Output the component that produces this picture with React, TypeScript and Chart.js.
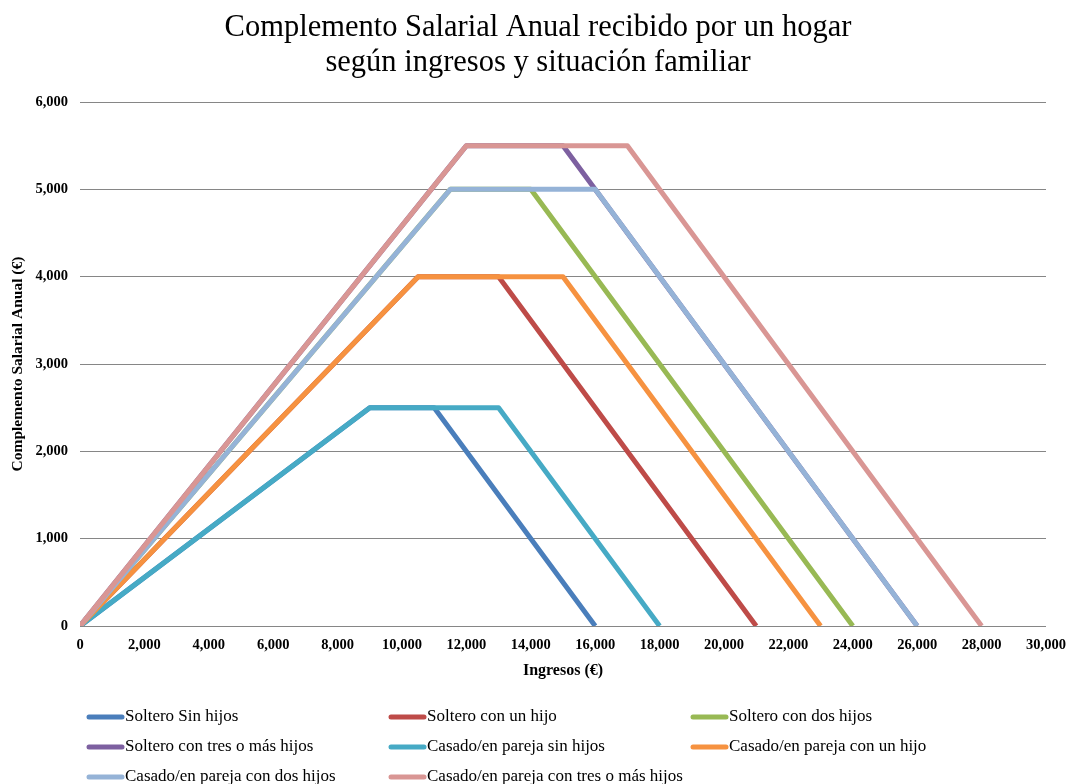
import React, { useEffect, useRef } from "react";
import { Chart, registerables } from "chart.js";

Chart.register(...registerables);

const titleLines = [
  "Complemento Salarial Anual recibido por un hogar",
  "según ingresos y situación familiar",
];
const xAxisTitle = "Ingresos (€)";
const yAxisTitle = "Complemento Salarial Anual (€)";

const seriesNames = [
  "Soltero Sin hijos",
  "Soltero con un hijo",
  "Soltero con dos hijos",
  "Soltero con tres o más hijos",
  "Casado/en pareja sin hijos",
  "Casado/en pareja con un hijo",
  "Casado/en pareja con dos hijos",
  "Casado/en pareja con tres o más hijos",
];

// Breakpoints (income €) and complement values (€) for each household type
const incomeSolteroSinHijos = [0, 9000, 11000, 16000];
const valuesSolteroSinHijos = [0, 2500, 2500, 0];
const incomeSolteroUnHijo = [0, 10500, 13000, 21000];
const valuesSolteroUnHijo = [0, 4000, 4000, 0];
const incomeSolteroDosHijos = [0, 11500, 14000, 24000];
const valuesSolteroDosHijos = [0, 5000, 5000, 0];
const incomeSolteroTresHijos = [0, 12000, 15000, 26000];
const valuesSolteroTresHijos = [0, 5500, 5500, 0];
const incomeCasadoSinHijos = [0, 9000, 13000, 18000];
const valuesCasadoSinHijos = [0, 2500, 2500, 0];
const incomeCasadoUnHijo = [0, 10500, 15000, 23000];
const valuesCasadoUnHijo = [0, 4000, 4000, 0];
const incomeCasadoDosHijos = [0, 11500, 16000, 26000];
const valuesCasadoDosHijos = [0, 5000, 5000, 0];
const incomeCasadoTresHijos = [0, 12000, 17000, 28000];
const valuesCasadoTresHijos = [0, 5500, 5500, 0];

const seriesIncomes = [
  incomeSolteroSinHijos,
  incomeSolteroUnHijo,
  incomeSolteroDosHijos,
  incomeSolteroTresHijos,
  incomeCasadoSinHijos,
  incomeCasadoUnHijo,
  incomeCasadoDosHijos,
  incomeCasadoTresHijos,
];
const seriesValues = [
  valuesSolteroSinHijos,
  valuesSolteroUnHijo,
  valuesSolteroDosHijos,
  valuesSolteroTresHijos,
  valuesCasadoSinHijos,
  valuesCasadoUnHijo,
  valuesCasadoDosHijos,
  valuesCasadoTresHijos,
];

const seriesColors = [
  "#4A7EBB",
  "#BE4B48",
  "#98B954",
  "#7D60A0",
  "#46AAC5",
  "#F69240",
  "#95B3D7",
  "#D99694",
];

const xMin = 0;
const xMax = 30000;
const xStep = 2000;
const yMin = 0;
const yMax = 6000;
const yStep = 1000;

const FONT = "'Liberation Serif', 'DejaVu Serif', serif";

const fmt = (v: number) => Number(v).toLocaleString("en-US");

const titlePlugin = {
  id: "customTitle",
  afterDraw(chart: any) {
    const ctx = chart.ctx;
    ctx.save();
    ctx.fillStyle = "#000";
    ctx.font = `30.5px ${FONT}`;
    ctx.textAlign = "center";
    ctx.textBaseline = "middle";
    ctx.fillText(titleLines[0], 538, 28);
    ctx.fillText(titleLines[1], 538, 63);
    ctx.restore();
  },
};

const legendPlugin = {
  id: "gridLegend",
  afterDraw(chart: any) {
    const ctx = chart.ctx;
    const colX = [87, 389, 691];
    const rowY = [717, 747, 777];
    ctx.save();
    ctx.font = `17px ${FONT}`;
    ctx.textBaseline = "middle";
    ctx.textAlign = "left";
    seriesNames.forEach((name, i) => {
      const col = i % 3;
      const row = Math.floor(i / 3);
      const x = colX[col];
      const y = rowY[row];
      ctx.strokeStyle = seriesColors[i];
      ctx.lineWidth = 5;
      ctx.lineCap = "round";
      ctx.beginPath();
      ctx.moveTo(x + 2, y);
      ctx.lineTo(x + 35, y);
      ctx.stroke();
      ctx.fillStyle = "#000";
      ctx.fillText(name, x + 38, y);
    });
    ctx.restore();
  },
};

export default function App() {
  const canvasRef = useRef<HTMLCanvasElement | null>(null);

  useEffect(() => {
    if (!canvasRef.current) return;
    const datasets = seriesNames.map((name, i) => ({
      label: name,
      data: seriesIncomes[i].map((x, j) => ({ x, y: seriesValues[i][j] })),
      borderColor: seriesColors[i],
      backgroundColor: seriesColors[i],
      borderWidth: 5,
      pointRadius: 0,
      borderJoinStyle: "round" as const,
      borderCapStyle: "butt" as const,
      fill: false,
      tension: 0,
      order: seriesNames.length - i,
    }));

    const chart = new Chart(canvasRef.current, {
      type: "line",
      data: { datasets },
      plugins: [titlePlugin, legendPlugin],
      options: {
        animation: false,
        responsive: false,
        maintainAspectRatio: false,
        layout: { padding: { left: 0, right: 23, top: 102, bottom: 98 } },
        plugins: {
          legend: { display: false },
          title: { display: false },
          tooltip: { enabled: false },
        },
        scales: {
          x: {
            type: "linear",
            min: xMin,
            max: xMax,
            grid: { display: false, drawTicks: false },
            border: { display: false },
            ticks: {
              stepSize: xStep,
              padding: 11,
              color: "#000",
              maxRotation: 0,
              font: { family: FONT, size: 14.5, weight: "bold" },
              callback: (v: any) => fmt(v),
            },
            title: {
              display: true,
              text: xAxisTitle,
              color: "#000",
              font: { family: FONT, size: 16, weight: "bold" },
              padding: { top: 4, bottom: 6 },
            },
            afterFit: (s: any) => {
              s.height = 60;
              s.paddingLeft = 0;
              s.paddingRight = 0;
            },
          },
          y: {
            type: "linear",
            min: yMin,
            max: yMax,
            grid: { color: "#868686", lineWidth: 1, drawTicks: false },
            border: { display: false },
            ticks: {
              stepSize: yStep,
              padding: 12,
              color: "#000",
              font: { family: FONT, size: 14.5, weight: "bold" },
              callback: (v: any) => fmt(v),
            },
            title: {
              display: true,
              text: yAxisTitle,
              color: "#000",
              font: { family: FONT, size: 15.5, weight: "bold" },
              padding: { top: 9, bottom: 0 },
            },
            afterFit: (s: any) => {
              s.width = 80;
              s.paddingTop = 0;
              s.paddingBottom = 0;
            },
          },
        },
      },
    });
    return () => chart.destroy();
  }, []);

  return (
    <div style={{ position: "fixed", left: 0, top: 0, width: 1069, height: 784, background: "#fff" }}>
      <canvas ref={canvasRef} width={1069} height={784} style={{ width: 1069, height: 784, display: "block" }} />
    </div>
  );
}
